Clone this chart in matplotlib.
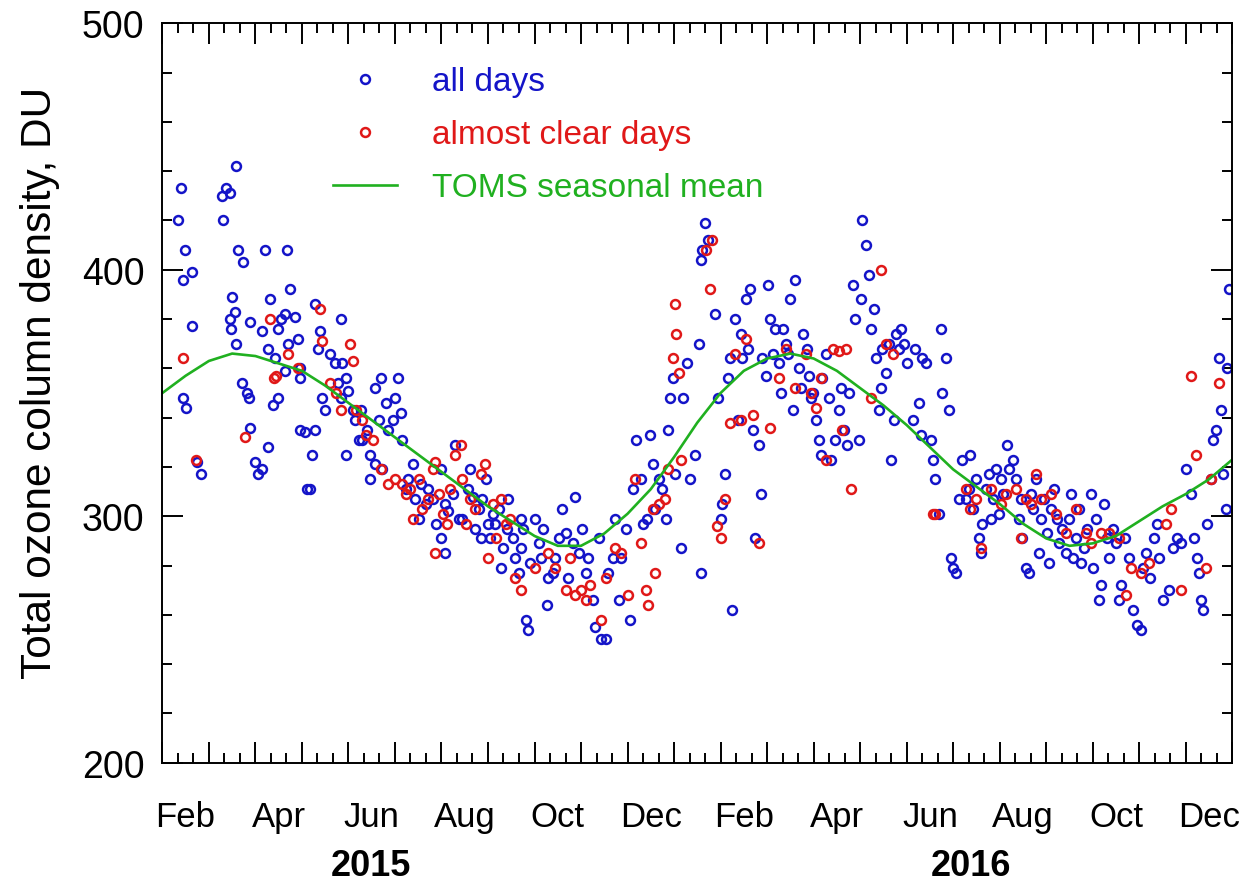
import matplotlib
matplotlib.use("Agg")
import matplotlib.pyplot as plt
from matplotlib.ticker import MultipleLocator, NullFormatter
from matplotlib.lines import Line2D
import matplotlib.transforms as mtransforms

plt.rcParams['font.family'] = ['Liberation Sans', 'DejaVu Sans']

# time axis: months elapsed since 1 Feb 2015 (0 .. 23 -> 1 Jan 2017)
month_labels = ["Feb", "Apr", "Jun", "Aug", "Oct", "Dec",
                "Feb", "Apr", "Jun", "Aug", "Oct", "Dec"]
year_labels = ["2015", "2016"]

# total ozone, all days (DU)
all_t = [
    0.39, 0.34, 0.49, 0.64, 0.45, 0.64, 0.45, 0.51, 0.75, 0.82,
    1.29, 1.37, 1.46, 1.59, 1.31, 1.63, 1.74, 1.50, 1.56, 1.46, 1.48, 1.59, 1.72, 1.81, 1.87, 1.89, 2.00, 2.06, 1.89,
    2.21, 2.32, 2.15, 2.28, 2.43, 2.49, 2.54, 2.64, 2.69, 2.75, 2.71, 2.86, 2.92, 2.96, 2.15, 2.28, 2.37, 2.49, 2.64, 2.96, 2.96, 3.07, 3.10, 3.18,
    3.28, 3.39, 3.35, 3.44, 3.50, 3.61, 3.72, 3.83, 3.87, 3.94, 3.78, 4.00, 4.09, 4.15, 4.22, 3.22, 3.28, 3.83, 3.94,
    4.26, 4.30, 4.39, 4.47, 4.58, 4.65, 4.69, 4.80, 4.86, 4.95, 5.01, 5.07, 5.12, 5.16, 5.23, 5.27, 4.47, 4.58, 4.73,
    5.38, 5.44, 5.51, 5.55, 5.66, 5.72, 5.81, 5.89, 5.98, 6.08, 6.15, 6.24, 6.30, 6.37, 6.08, 5.98,
    6.45, 6.58, 6.67, 6.73, 6.80, 6.88, 6.95, 7.01, 7.05, 7.10, 7.16, 7.23, 7.27, 7.33, 7.40, 7.44, 6.62, 6.84,
    7.53, 7.59, 7.66, 7.70, 7.76, 7.81, 7.85, 7.91, 8.02, 8.09, 8.13, 8.19, 8.26, 8.30, 8.39, 8.45, 8.52, 7.70,
    8.60, 8.67, 8.73, 8.82, 8.88, 8.95, 9.03, 9.10, 9.16, 9.25, 9.31, 9.38, 9.42, 9.53, 9.59,
    9.68, 9.74, 9.81, 9.85, 9.96, 10.06, 10.11, 10.19, 10.28, 10.34, 10.41, 10.49, 10.54, 10.60, 10.67,
    10.75, 10.82, 10.88, 10.92, 10.97, 11.03, 11.14, 11.20, 11.27, 11.35, 11.46, 11.53, 11.57, 11.61, 11.66, 11.74, 11.57,
    11.89, 11.95, 12.00, 12.04, 12.10, 12.17, 12.21, 12.25, 12.32, 12.38, 12.43, 12.47, 12.54, 12.60, 12.64, 12.69, 12.75, 12.82, 12.86,
    12.90, 12.97, 13.03, 13.07, 13.12, 13.18, 13.25, 13.29, 13.35, 13.40, 13.46, 13.50, 13.55, 13.61, 13.68, 13.72, 13.78, 13.85, 13.89, 13.94,
    13.98, 14.05, 14.11, 14.15, 14.19, 14.26, 14.32, 14.37, 14.47, 14.54, 14.58, 14.65, 14.71, 14.75, 14.84, 14.90, 14.97, 15.01,
    15.05, 15.12, 15.18, 15.23, 15.29, 15.35, 15.40, 15.44, 15.48, 15.55, 15.61, 15.66, 15.72, 15.78, 15.83, 15.87, 15.94, 16.00,
    16.13, 16.19, 16.26, 16.30, 16.34, 16.41, 16.52, 16.56, 16.62, 16.69, 16.73, 16.77, 16.84, 16.90, 16.95, 16.99, 17.05, 17.12,
    17.20, 17.27, 17.33, 17.37, 17.42, 17.48, 17.55, 17.59, 17.63, 17.70, 17.76, 17.81, 17.85, 17.91, 17.98, 18.02, 18.08, 18.15, 18.19,
    18.28, 18.34, 18.41, 18.45, 18.49, 18.56, 18.62, 18.67, 18.71, 18.77, 18.84, 18.88, 18.95, 19.01, 19.05, 19.10, 19.16, 19.23, 19.27,
    19.35, 19.42, 19.48, 19.53, 19.57, 19.64, 19.70, 19.74, 19.81, 19.87, 19.96, 20.00, 20.06, 20.13, 20.17, 20.24, 20.30, 20.34,
    20.43, 20.49, 20.56, 20.60, 20.69, 20.77, 20.86, 20.95, 21.03, 21.09, 21.15, 21.24, 21.31, 21.38, 21.42,
    21.51, 21.63, 21.72, 21.81, 21.89, 22.00, 22.11, 22.17, 22.24, 22.28, 22.32, 22.38, 22.45, 22.54, 22.58, 22.65, 22.71, 22.75, 22.79, 22.86, 22.92, 22.88,
]
all_du = [
    433, 420, 408, 399, 396, 377, 348, 344, 322, 317,
    430, 433, 431, 442, 420, 408, 403, 389, 383, 380, 376, 370, 354, 350, 348, 336, 322, 317, 379,
    408, 388, 375, 368, 364, 376, 380, 382, 408, 392, 370, 381, 372, 360, 319, 328, 345, 348, 359, 356, 335, 334, 311, 311,
    386, 375, 368, 348, 343, 366, 362, 380, 362, 356, 354, 351, 343, 339, 331, 325, 335, 348, 325,
    343, 331, 335, 325, 352, 339, 356, 346, 335, 339, 348, 356, 342, 331, 311, 315, 315, 321, 319,
    321, 307, 299, 313, 305, 311, 307, 297, 319, 305, 302, 309, 329, 299, 285, 291,
    299, 311, 308, 295, 303, 307, 315, 297, 291, 301, 297, 303, 279, 287, 295, 307, 319, 291,
    291, 283, 277, 287, 295, 258, 254, 281, 299, 289, 283, 295, 264, 275, 277, 283, 291, 299,
    303, 293, 275, 289, 308, 285, 295, 277, 283, 266, 255, 291, 250, 250, 277,
    283, 299, 266, 283, 295, 258, 311, 331, 315, 297, 299, 333, 321, 303, 315,
    311, 299, 335, 348, 356, 317, 287, 348, 362, 315, 325, 370, 404, 408, 419, 412, 277,
    382, 348, 299, 305, 317, 356, 364, 262, 380, 339, 374, 364, 388, 368, 392, 335, 291, 329, 309,
    364, 357, 394, 380, 366, 376, 362, 350, 376, 370, 366, 388, 343, 396, 360, 352, 374, 368, 357, 348,
    350, 339, 331, 325, 356, 366, 348, 323, 331, 343, 352, 335, 329, 350, 394, 380, 331, 388,
    420, 410, 398, 376, 384, 364, 343, 352, 368, 358, 370, 323, 339, 374, 368, 376, 370, 362,
    339, 368, 346, 333, 364, 362, 331, 323, 315, 301, 376, 350, 364, 343, 283, 279, 277, 307,
    323, 307, 311, 325, 303, 315, 291, 285, 297, 311, 317, 299, 307, 319, 301, 315, 309, 329, 319,
    323, 315, 299, 307, 291, 279, 277, 309, 303, 315, 285, 299, 307, 293, 281, 303, 311, 299, 289,
    295, 285, 299, 309, 283, 291, 303, 281, 287, 295, 309, 279, 299, 266, 272, 305, 291, 283,
    295, 289, 266, 272, 291, 283, 262, 256, 254, 279, 285, 275, 291, 297, 283,
    266, 270, 287, 291, 289, 319, 309, 291, 283, 277, 266, 262, 297, 315, 331, 335, 364, 343, 317, 303, 392, 360,
]

# total ozone, almost clear days (DU)
clear_t = [
    0.45, 0.72,
    1.78,
    2.32, 2.39, 2.45, 2.71, 2.92,
    3.39, 3.44, 3.61, 3.74, 3.83, 4.04, 4.09, 4.17,
    4.30, 4.37, 4.52, 4.69, 4.86, 5.01, 5.16, 5.23, 5.33,
    5.38, 5.51, 5.59, 5.72, 5.81, 5.87, 5.94, 6.03, 6.11, 6.19, 6.30, 6.41, 6.45, 5.87,
    6.52, 6.62, 6.73, 6.84, 6.93, 7.01, 7.10, 7.18, 7.27, 7.38, 7.48,
    7.59, 7.70, 8.02, 8.30, 8.45,
    8.67, 8.77, 8.88, 8.99, 9.10, 9.20, 9.42, 9.53,
    9.74, 9.85, 10.02, 10.17, 10.28, 10.39, 10.45, 10.54, 10.60, 10.67,
    10.80, 10.88, 10.97, 11.03, 11.05, 11.10, 11.14, 11.68, 11.78, 11.82,
    11.92, 12.00, 12.10, 12.21, 12.32, 12.43, 12.54, 12.69, 12.82,
    13.07, 13.25, 13.40, 13.61, 13.83, 13.94,
    14.05, 14.15, 14.26, 14.41, 14.54, 14.62, 14.69, 14.80,
    15.23, 15.44, 15.55, 15.70,
    16.56, 16.62,
    17.27, 17.37, 17.48, 17.59, 17.81, 18.02, 18.13,
    18.34, 18.45, 18.56, 18.67, 18.77, 18.88, 19.10, 19.20,
    19.42, 19.64, 19.85, 19.96, 20.17, 20.34,
    20.56, 20.71, 20.82, 21.03, 21.20,
    21.57, 21.68, 21.89, 22.11, 22.22, 22.43, 22.54, 22.71,
]
clear_du = [
    364, 323,
    332,
    380, 356, 357, 366, 360,
    384, 371, 354, 350, 343, 370, 363, 343,
    339, 333, 331, 319, 313, 315, 313, 309, 311,
    299, 315, 303, 307, 319, 322, 309, 301, 297, 311, 325, 329, 315, 285,
    297, 307, 303, 317, 321, 283, 305, 291, 307, 297, 299,
    275, 270, 279, 285, 279,
    270, 283, 268, 270, 266, 272, 258, 275,
    287, 285, 268, 315, 289, 270, 264, 303, 277, 305,
    307, 319, 364, 386, 374, 358, 323, 408, 392, 412,
    296, 291, 307, 338, 366, 339, 372, 341, 289,
    336, 356, 368, 352, 366, 350,
    344, 356, 323, 368, 367, 335, 368, 311,
    348, 400, 370, 366,
    301, 301,
    311, 303, 307, 287, 311, 305, 309,
    311, 291, 307, 305, 317, 307, 309, 301,
    293, 303, 293, 289, 293, 293,
    291, 268, 279, 277, 281,
    297, 303, 270, 357, 325, 279, 315, 354,
]

# TOMS climatological seasonal mean, sampled every half month (DU)
toms_t = [i * 0.5 for i in range(47)]
toms_du = [
    350, 357, 363, 366, 365, 362, 359, 353, 346, 339,
    332, 325, 318, 311, 304, 298, 292, 288, 288, 293,
    301, 311, 324, 338, 350, 359, 364, 366, 364, 359,
    352, 345, 337, 328, 319, 312, 305, 297, 291, 288,
    289, 292, 298, 304, 309, 315, 323,
]

BLUE = "#1414c8"
RED = "#e01818"
GREEN = "#20b020"

fig = plt.figure(figsize=(12.47, 8.87), dpi=100)
ax = fig.add_axes([0.1302, 0.139, 0.858, 0.8336])

mk = dict(marker="o", linestyle="none", markersize=6.4, markerfacecolor="none",
          markeredgewidth=1.8)
ax.plot(all_t, all_du, markeredgecolor=BLUE, **mk)
ax.plot(clear_t, clear_du, markeredgecolor=RED, **mk)
ax.plot(toms_t, toms_du, color=GREEN, linewidth=1.9)

ax.set_xlim(0, 23)
ax.set_ylim(200, 500)

# ticks on every side, pointing inward
ax.xaxis.set_major_locator(MultipleLocator(1))
ax.xaxis.set_minor_locator(MultipleLocator(1 / 3))
ax.xaxis.set_major_formatter(NullFormatter())
ax.yaxis.set_major_locator(MultipleLocator(100))
ax.yaxis.set_minor_locator(MultipleLocator(20))
ax.tick_params(which="both", direction="in", top=True, right=True, width=1.4, colors="black")
ax.tick_params(which="major", length=15)
ax.tick_params(which="minor", length=7.2)
ax.tick_params(axis="y", which="major", labelsize=27, pad=13)
for s in ax.spines.values():
    s.set_linewidth(1.4)

# month names centred within their months
sec = ax.secondary_xaxis("bottom")
sec.set_xticks([k + 0.5 for k in range(0, 24, 2)], labels=month_labels)
sec.tick_params(length=0, labelsize=25, pad=27)
sec.spines["bottom"].set_visible(False)

# year captions
trans = mtransforms.blended_transform_factory(ax.transData, fig.transFigure)
for xm, yr in zip([4.49, 17.38], year_labels):
    ax.text(xm, 0.023, yr, transform=trans, ha="center", va="center",
            fontsize=26, fontweight="bold")

ax.set_ylabel("Total ozone column density, DU", fontsize=30.5)
ax.yaxis.set_label_coords(-0.096, 0.515)

handles = [
    Line2D([], [], markeredgecolor=BLUE, **mk),
    Line2D([], [], markeredgecolor=RED, **mk),
    Line2D([], [], color=GREEN, linewidth=1.9),
]
leg = ax.legend(handles, ["all days", "almost clear days", "TOMS seasonal mean"],
                loc="upper left", bbox_to_anchor=(0.1595, 0.942), frameon=False,
                fontsize=24, handlelength=1.92, handletextpad=1.05, labelspacing=0.66,
                borderpad=0, borderaxespad=0)
for txt, c in zip(leg.get_texts(), [BLUE, RED, GREEN]):
    txt.set_color(c)

fig.savefig("out.png", dpi=100)
